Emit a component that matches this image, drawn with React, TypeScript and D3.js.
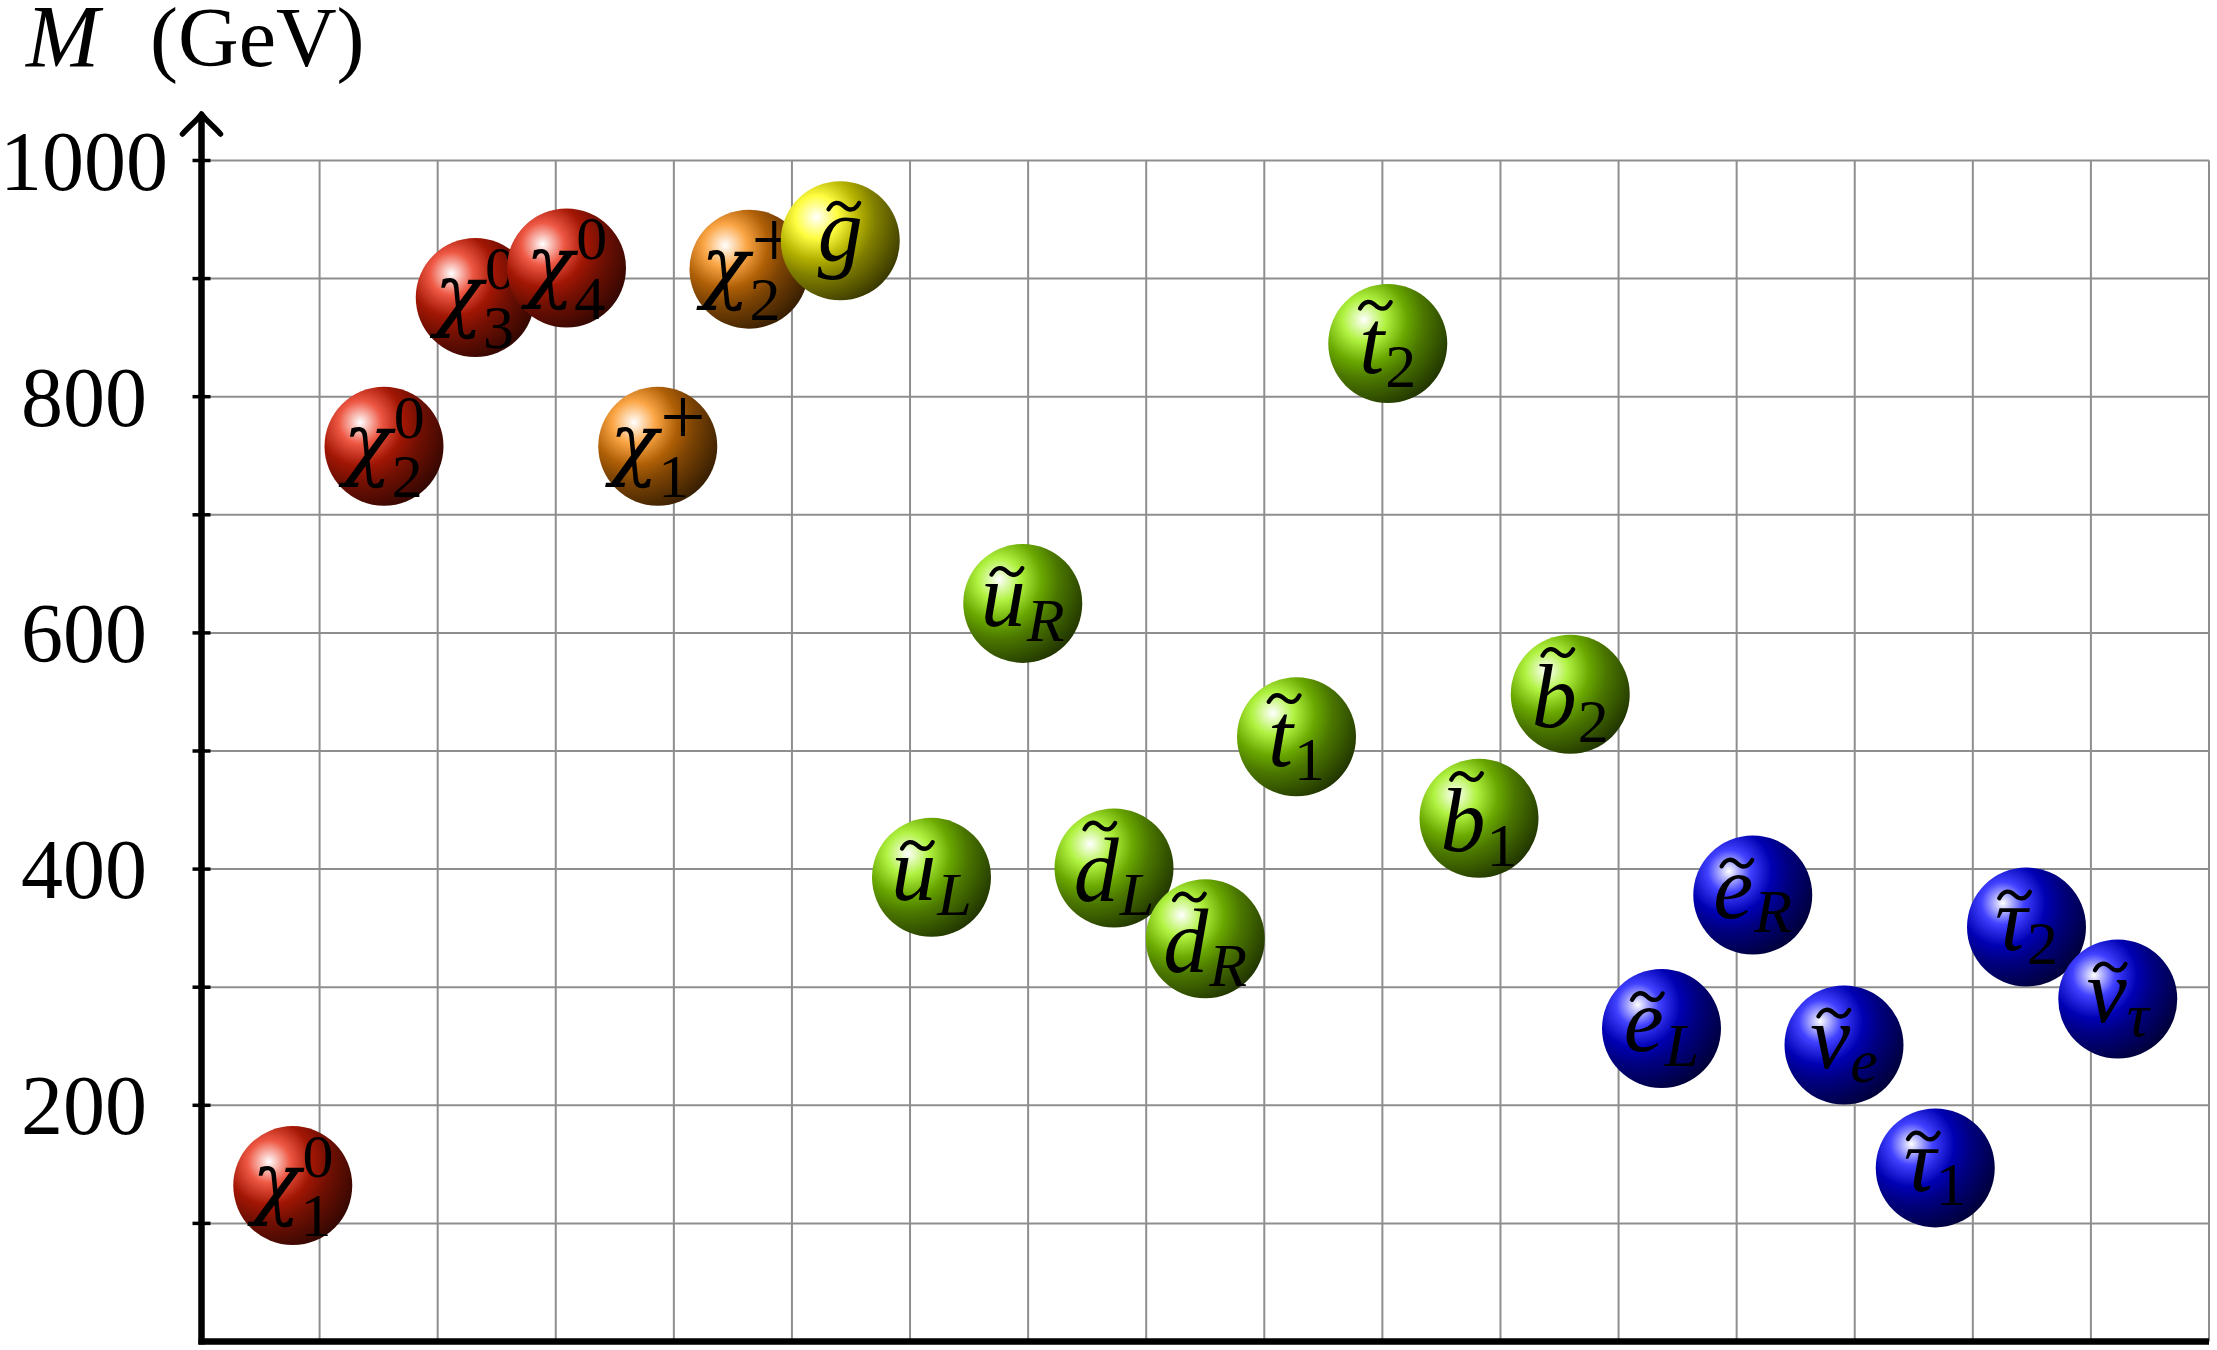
import React, { useEffect, useRef } from 'react';
import * as d3 from 'd3';

// sparticle spectrum, left to right
const particles = ['chi10', 'chi20', 'chi30', 'chi40', 'chi1p', 'chi2p', 'gluino',
  'uL', 'uR', 'dL', 'dR', 't1', 't2', 'b1', 'b2',
  'eL', 'eR', 'nue', 'tau1', 'tau2', 'nutau'];
const masses = [132, 758, 884, 909, 758, 908, 932,
  393, 625, 401, 341, 512, 845, 443, 548,
  265, 378, 251, 147, 351, 290];
const families = ['neutralino', 'neutralino', 'neutralino', 'neutralino', 'chargino', 'chargino', 'gluino',
  'squark', 'squark', 'squark', 'squark', 'squark', 'squark', 'squark', 'squark',
  'slepton', 'slepton', 'slepton', 'slepton', 'slepton', 'slepton'];
const labelBase = ['χ', 'χ', 'χ', 'χ', 'χ', 'χ', 'g',
  'u', 'u', 'd', 'd', 't', 't', 'b', 'b',
  'e', 'e', 'ν', 'τ', 'τ', 'ν'];
const labelSub = ['1', '2', '3', '4', '1', '2', '',
  'L', 'R', 'L', 'R', '1', '2', '1', '2',
  'L', 'R', 'e', '1', '2', 'τ'];
const labelSup = ['0', '0', '0', '0', '+', '+', '',
  '', '', '', '', '', '', '', '',
  '', '', '', '', '', ''];

const familyColors: Record<string, number[]> = {
  neutralino: [232, 32, 6],
  chargino: [250, 136, 8],
  gluino: [255, 252, 0],
  squark: [150, 238, 0],
  slepton: [0, 0, 255]
};

const yTicks = [100, 200, 300, 400, 500, 600, 700, 800, 900, 1000];
const yTickLabels = [200, 400, 600, 800, 1000];

const W = 2217;
const H = 1350;
const FONT = '"Liberation Serif", "Times New Roman", serif';
const GREEK = '"DejaVu Serif", "Liberation Serif", serif';

function App() {
  const ref = useRef<SVGSVGElement>(null);

  useEffect(() => {
    const svg = d3.select(ref.current);
    svg.selectAll('*').remove();

    const x = d3.scaleLinear().domain([0, 17]).range([201.5, 2209]);
    const slot = d3.scaleLinear().domain([0, 22]).range([x(0), x(17)]);
    const y = d3.scaleLinear().domain([0, 1000]).range([1341.5, 160.5]);
    const r = 59.5;

    // ball shadings (tikz ball color style)
    const defs = svg.append('defs');
    Object.keys(familyColors).forEach((k) => {
      const c = familyColors[k];
      const mix = (a: number, t: number, b: number) => Math.round(a * t + b * (1 - t));
      const rgb = (arr: number[]) => `rgb(${arr.join(',')})`;
      const grad = defs.append('radialGradient')
        .attr('id', 'ball-' + k)
        .attr('cx', 0.3).attr('cy', 0.3).attr('fx', 0.3).attr('fy', 0.3).attr('r', 1);
      const stops: [number, string][] = [
        [0, '#ffffff'],
        [0.18, rgb(c.map((v) => mix(v, 0.75, 255)))],
        [0.36, rgb(c.map((v) => mix(v, 0.7, 0)))],
        [0.5, rgb(c.map((v) => mix(v, 0.5, 0)))],
        [1, '#000000']
      ];
      stops.forEach(([o, col]) => grad.append('stop').attr('offset', o).attr('stop-color', col));
    });

    // grid
    const grid = svg.append('g').attr('stroke', '#8e8e8e').attr('stroke-width', 2);
    grid.selectAll('line.h').data(yTicks).enter().append('line')
      .attr('x1', x(0)).attr('x2', x(17))
      .attr('y1', (d) => y(d)).attr('y2', (d) => y(d));
    grid.selectAll('line.v').data(d3.range(1, 18)).enter().append('line')
      .attr('x1', (d) => x(d)).attr('x2', (d) => x(d))
      .attr('y1', y(0)).attr('y2', y(1000));

    // axes
    svg.append('line')
      .attr('x1', x(0) - 3).attr('x2', x(17))
      .attr('y1', y(0)).attr('y2', y(0))
      .attr('stroke', '#000').attr('stroke-width', 6.5);
    const tipY = 114;
    svg.append('line')
      .attr('x1', x(0)).attr('x2', x(0))
      .attr('y1', y(0) + 3).attr('y2', tipY + 2)
      .attr('stroke', '#000').attr('stroke-width', 6.5);
    const ax = x(0);
    svg.append('path')
      .attr('d', `M${ax - 19},${tipY + 20} C${ax - 12},${tipY + 12} ${ax - 4},${tipY + 6} ${ax},${tipY} C${ax + 4},${tipY + 6} ${ax + 12},${tipY + 12} ${ax + 19},${tipY + 20}`)
      .attr('fill', 'none').attr('stroke', '#000').attr('stroke-width', 5.5)
      .attr('stroke-linecap', 'round').attr('stroke-linejoin', 'round');

    svg.append('g').selectAll('line').data(yTicks).enter().append('line')
      .attr('x1', ax - 9).attr('x2', ax + 9)
      .attr('y1', (d) => y(d)).attr('y2', (d) => y(d))
      .attr('stroke', '#000').attr('stroke-width', 3.5);

    svg.append('g').selectAll('text').data(yTickLabels).enter().append('text')
      .attr('x', 84).attr('y', (d) => y(d) + 29)
      .attr('text-anchor', 'middle')
      .attr('font-family', FONT).attr('font-size', 84)
      .text((d) => d);

    // axis title
    svg.append('text').attr('x', 26).attr('y', 66)
      .attr('font-family', FONT).attr('font-size', 88).attr('font-style', 'italic')
      .text('M');
    svg.append('text').attr('x', 150).attr('y', 66)
      .attr('font-family', FONT).attr('font-size', 84)
      .text('(GeV)');

    // balls
    const F = 90;
    const Fs = 62;
    const tall = new Set(['b', 'd', 't']);
    const desc = new Set(['χ', 'g']);

    particles.forEach((p, i) => {
      const cx = slot(i + 1);
      const cy = y(masses[i]);
      const g = svg.append('g').attr('class', p);
      g.append('circle').attr('cx', cx).attr('cy', cy).attr('r', r)
        .attr('fill', `url(#ball-${families[i]})`);

      const lab = g.append('g');
      const base = labelBase[i];
      const isChi = base === 'χ';
      const bt = lab.append('text').attr('x', 0).attr('y', 0)
        .attr('font-family', isChi ? GREEK : FONT).attr('font-size', isChi ? 80 : F)
        .attr('font-style', 'italic')
        .text(base);
      const bw = (bt.node() as SVGTextElement).getComputedTextLength();
      const isGreek = isChi || base === 'ν' || base === 'τ';
      const hasTilde = !isChi;
      const letterTop = tall.has(base) ? (base === 't' ? 0.6 * F : 0.68 * F) : 0.46 * F;
      let top = -letterTop;
      let bottom = desc.has(base) ? 0.22 * F : 0;
      let right = bw;

      if (hasTilde) {
        const tw = 0.34 * F;
        const th = 0.1 * F;
        const tx = bw / 2 + 0.04 * F;
        const ty = -letterTop - 0.15 * F;
        lab.append('path')
          .attr('d', `M${tx - tw / 2},${ty + th * 0.35} C${tx - tw * 0.35},${ty - th * 0.6} ${tx - tw * 0.15},${ty - th * 0.5} ${tx},${ty} C${tx + tw * 0.15},${ty + th * 0.5} ${tx + tw * 0.35},${ty + th * 0.6} ${tx + tw / 2},${ty - th * 0.35}`)
          .attr('fill', 'none').attr('stroke', '#000').attr('stroke-width', 0.048 * F)
          .attr('stroke-linecap', 'round');
        top = Math.min(top, ty - th * 0.6);
      }

      const sup = labelSup[i];
      const sub = labelSub[i];
      const sx = bw + (isGreek ? 0 : 1);
      if (sup) {
        const plus = sup === '+';
        const st = lab.append('text').attr('x', sx + 2).attr('y', -0.36 * F + (plus ? 6 : 0))
          .attr('font-family', FONT).attr('font-size', plus ? Fs * 1.3 : Fs)
          .text(sup);
        const sw = (st.node() as SVGTextElement).getComputedTextLength();
        right = Math.max(right, sx + 2 + sw);
        top = Math.min(top, -0.36 * F - 0.68 * Fs);
      }
      if (sub) {
        const subY = sup ? 0.3 * F : 0.16 * F;
        const italicSub = /[A-Za-zτ]/.test(sub);
        const st = lab.append('text').attr('x', sx).attr('y', subY)
          .attr('font-family', FONT).attr('font-size', Fs)
          .attr('font-style', italicSub ? 'italic' : 'normal')
          .text(sub);
        const sw = (st.node() as SVGTextElement).getComputedTextLength();
        right = Math.max(right, sx + sw);
        bottom = Math.max(bottom, subY);
        top = Math.min(top, subY - (sub === 'e' || sub === 'τ' ? 0.46 : 0.68) * Fs);
      }

      const dx = cx - right / 2;
      const dy = cy - (top + bottom) / 2;
      lab.attr('transform', `translate(${dx},${dy})`);
    });
  }, []);

  return (
    <svg
      ref={ref}
      width={W}
      height={H}
      viewBox={`0 0 ${W} ${H}`}
      style={{ position: 'absolute', left: 0, top: 0, display: 'block', background: '#fff' }}
    />
  );
}

export default App;
